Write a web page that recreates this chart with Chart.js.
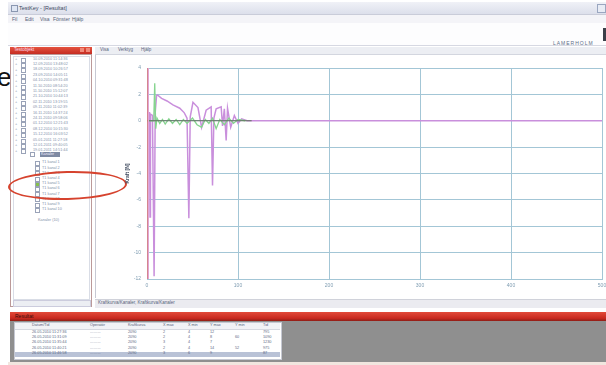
<!DOCTYPE html>
<html>
<head>
<meta charset="utf-8">
<script src="https://cdn.jsdelivr.net/npm/chart.js@4/dist/chart.umd.min.js"></script>
<style>
  html, body { margin: 0; padding: 0; background: #fff; }
  body { width: 606px; height: 365px; overflow: hidden; position: relative; font-family: "Liberation Sans", Arial, sans-serif; }
  .abs { position: absolute; }
  .t { font-size: 5px; color: #56637a; white-space: nowrap; line-height: 1; }
  .big-e { left: -3px; top: 62px; font-size: 26px; color: #111; }
  .titlebar { left: 8px; top: 2px; width: 598px; height: 12px; background: linear-gradient(#f0f1f7, #dcdfeb); border-bottom: 1px solid #c9ccd9; }
  .menubar { left: 8px; top: 15px; width: 598px; height: 8px; background: #f4f4f8; }
  .toolarea { left: 8px; top: 23px; width: 598px; height: 22px; background: #fdfdfe; border-bottom: 1px solid #d6d8e2; }
  .lhead { left: 10px; top: 47px; width: 82px; height: 7px; background: linear-gradient(#e4533f, #c52c22); }
  .lbody { left: 10px; top: 54px; width: 80px; height: 251px; background: #fff; border: 1px solid #b99; }
  .llist { left: 13px; top: 56px; width: 75px; height: 242px; border: 1px solid #d9dde6; background: #fff; }
  .lscroll { left: 13px; top: 300px; width: 76px; height: 5px; background: #eceef3; border: 1px solid #ccd; }
  .mtabs { left: 95px; top: 47px; width: 511px; height: 7px; background: #eceef3; border-bottom: 1px solid #d3d6df; }
  .mpanel { left: 95px; top: 55px; width: 511px; height: 243px; background: #fff; border-left: 1px solid #c7c9d3; }
  .mstatus { left: 95px; top: 299px; width: 511px; height: 8px; background: #ebebf0; border-top: 1px solid #d0d2da; }
  .rbar { left: 10px; top: 312px; width: 596px; height: 9px; background: linear-gradient(#e24a39, #c8291f 70%, #8e1d16); }
  .garea { left: 10px; top: 321px; width: 596px; height: 41px; background: #8f8f8f; }
  .tbl { left: 14px; top: 322px; width: 266px; height: 36px; background: #fff; border: 1px solid #c5c8d2; }
  .bstrip { left: 8px; top: 362px; width: 598px; height: 3px; background: #f1e6df; }
  .cb { position: absolute; width: 3px; height: 3px; border: 1px solid #9aa3b8; background: #fff; }
  .ellipse { left: 8px; top: 171px; width: 115px; height: 25px; border: 2px solid #d6432e; border-radius: 50%; transform: rotate(-1.5deg); }
  canvas { position: absolute; left: 95px; top: 55px; }
</style>
</head>
<body>
<div class="abs big-e">e</div>

<div class="abs titlebar"></div>
<div class="abs" style="left:11px;top:5px;width:5px;height:5px;background:#dfe6f3;border:1px solid #8a97b0;"></div>
<div class="abs t" style="left:19px;top:6px;font-size:5.5px;color:#3d4760;">TestKey - [Resultat]</div>
<div class="abs" style="left:597px;top:4px;width:7px;height:7px;background:#e8ecf5;border:1px solid #9aa6c0;"></div>

<div class="abs menubar"></div>
<div class="abs t" style="left:12px;top:17px;">Fil</div>
<div class="abs t" style="left:25px;top:17px;">Edit</div>
<div class="abs t" style="left:40px;top:17px;">Visa</div>
<div class="abs t" style="left:53px;top:17px;">Fönster</div>
<div class="abs t" style="left:72px;top:17px;">Hjälp</div>

<div class="abs toolarea"></div>
<div class="abs" style="left:603px;top:28px;width:3px;height:13px;background:#3b3f48;"></div>
<div class="abs t" style="left:553px;top:41px;font-size:5px;letter-spacing:1px;color:#5d6f88;">LAMERHOLM</div>

<div class="abs lhead"></div>
<div class="abs t" style="left:14px;top:48px;color:#fde;font-size:4.5px;">Testobjekt</div>
<div class="abs" style="left:80px;top:48px;width:4px;height:4px;background:#f08a7a;"></div>
<div class="abs" style="left:86px;top:48px;width:4px;height:4px;background:#f08a7a;"></div>
<div class="abs lbody"></div>
<div class="abs llist"></div>
<div id="tree"></div>
<div class="abs lscroll"></div>

<div class="abs mtabs"></div>
<div class="abs t" style="left:100px;top:48px;font-size:4.5px;">Visa</div>
<div class="abs t" style="left:118px;top:48px;font-size:4.5px;">Verktyg</div>
<div class="abs t" style="left:141px;top:48px;font-size:4.5px;">Hjälp</div>
<div class="abs mpanel"></div>
<div class="abs mstatus"></div>
<div class="abs t" style="left:98px;top:301px;font-size:4.5px;">Kraftkurva/Kanaler, Kraftkurva/Kanaler</div>

<div class="abs rbar"></div>
<div class="abs t" style="left:15px;top:314px;color:#3a0d0a;font-size:5px;">Resultat</div>
<div class="abs garea"></div>
<div class="abs tbl"></div>
<div id="table"></div>
<div class="abs bstrip"></div>

<div class="abs ellipse"></div>

<canvas id="chart" width="511" height="244"></canvas>

<script>
// Test runs listed in the object tree
const runLabels = [
  '10.09.2010 11:14:36', '12.09.2010 13:48:02', '18.09.2010 10:26:57', '23.09.2010 14:05:11',
  '04.10.2010 09:31:48', '11.10.2010 08:54:20', '11.10.2010 15:12:07', '21.10.2010 10:44:13',
  '02.11.2010 13:19:55', '09.11.2010 11:02:39', '16.11.2010 14:37:24', '24.11.2010 09:58:06',
  '01.12.2010 12:21:43', '08.12.2010 10:15:30', '15.12.2010 16:03:52', '05.01.2011 11:27:18',
  '12.01.2011 09:40:05', '19.01.2011 14:51:44'
];
const channelLabels = [
  'T1 kanal 1', 'T1 kanal 2', 'T1 kanal 3', 'T1 kanal 4', 'T1 kanal 5', 'T1 kanal 6',
  'T1 kanal 7', 'T1 kanal 8', 'T1 kanal 9', 'T1 kanal 10'
];
const checkedChannel = 4;

// Result table
const tableHeaders = ['Datum/Tid', 'Operatör', 'Kraftkurva', 'X max', 'X min', 'Y max', 'Y min', 'Tid'];
const tableRows = [
  ['26.05.2010 11:27:36', '..........', '2090', '2', '4', '12', '', '795'],
  ['26.05.2010 11:31:09', '..........', '2090', '2', '4', '8', '60', '1090'],
  ['26.05.2010 11:35:44', '..........', '2090', '3', '4', '7', '', '1230'],
  ['26.05.2010 11:40:21', '..........', '2090', '2', '4', '14', '52', '975'],
  ['26.05.2010 11:46:58', '..........', '2090', '3', '6', '9', '', '87']
];
const tableColX = [18, 76, 114, 149, 174, 196, 221, 249];

// Chart axes
const xMin = 0, xMax = 500, xStep = 100;
const yMin = -12, yMax = 4, yStep = 2;
const yAxisTitle = 'Kraft [N]';

// Measured channels, [x, y]
const forceCurve = [
  [0, 0.6], [2.8, 0.6], [3.3, -7.3], [3.8, 0.5], [6, 0.4], [7.8, -11.8], [9, 0.6], [10.5, 1.9],
  [11.5, 1.95], [16, 1.7], [22, 1.5], [28.5, 1.2], [36, 0.95], [41, 0.6], [44, 0.2], [46, -7.4],
  [47.5, 0.3], [50.5, 1.4], [56, 1.0], [60, -0.5], [65, 0.8], [70.5, 1.05], [72, -4.9], [73.5, 0.2],
  [76, 0.9], [81.5, 1.05], [83, -0.4], [85, 0.9], [87, -1.5], [88.5, 0.95], [92, -0.5], [96, 0.4],
  [100, -0.2], [104, 0.15], [110, 0], [500, 0]
];
const channel2 = [
  [0, 0], [7.4, 0], [8.5, 2.85], [9.6, -0.6], [11, 0.2], [14, -0.2], [17, 0.1], [20, -0.25],
  [24, 0.15], [28, -0.2], [32, 0.1], [36, -0.3], [40, 0.1], [44, -0.2], [50, 0.2], [55, -0.3],
  [60, -0.5], [64, 0.1], [68, -0.2], [72, 0.2], [76, -0.6], [80, 0.1], [85, -0.3], [90, 0.2],
  [95, -0.2], [100, 0.1], [108, 0]
];
const baseline = [[0, 0], [115, 0]];
const cursorA = [[0, 4], [0, -12]];
const cursorB = [[1.5, 4], [1.5, -12]];

// Build tree rows and the result table
(function () {
  const tree = document.getElementById('tree');
  let html = '';
  runLabels.forEach((lab, i) => {
    const y = 57 + i * 5.4;
    html += `<div class="abs t" style="left:15px;top:${y}px;font-size:4px;color:#8d97aa;">+</div>` +
            `<div class="cb" style="left:21px;top:${y + 0.5}px;"></div>` +
            `<div class="abs t" style="left:33px;top:${y + 0.5}px;font-size:3.8px;color:#8592ab;">${lab}</div>`;
  });
  html += `<div class="abs" style="left:30px;top:152px;width:3px;height:3px;border:1px solid #9aa3b8;"></div>`;
  html += `<div class="abs" style="left:40px;top:152px;width:20px;height:5px;background:#7f8aa3;"></div>` +
          `<div class="abs t" style="left:41px;top:152.5px;font-size:3.8px;color:#eef;">Kanaler</div>`;
  channelLabels.forEach((lab, i) => {
    const y = 161 + i * 5.2;
    const bg = i === checkedChannel ? '#86c04d' : '#fff';
    html += `<div class="cb" style="left:35px;top:${y}px;background:${bg};"></div>` +
            `<div class="abs t" style="left:42px;top:${y + 0.3}px;font-size:3.8px;color:#8592ab;">${lab}</div>`;
  });
  html += `<div class="abs t" style="left:38px;top:219px;font-size:3.8px;color:#8592ab;">Kanaler (10)</div>`;
  tree.innerHTML = html;

  const table = document.getElementById('table');
  let t = `<div class="abs" style="left:15px;top:323px;width:265px;height:6px;background:#f1f2f6;border-bottom:1px solid #d5d8e0;"></div>`;
  tableHeaders.forEach((h, i) => {
    t += `<div class="abs t" style="left:${tableColX[i] + 14}px;top:324px;font-size:3.8px;color:#56637a;">${h}</div>`;
  });
  tableRows.forEach((r, ri) => {
    const y = 330 + ri * 5.4;
    if (ri === tableRows.length - 1) {
      t += `<div class="abs" style="left:15px;top:${y}px;width:265px;height:5px;background:#b9c2d6;"></div>`;
    }
    r.forEach((c, ci) => {
      t += `<div class="abs t" style="left:${tableColX[ci] + 14}px;top:${y + 0.6}px;font-size:3.8px;color:#5d6b86;">${c}</div>`;
    });
  });
  table.innerHTML = t;
})();

const toXY = arr => arr.map(([x, y]) => ({ x, y }));
const line = (data, color, width) => ({
  data: toXY(data), borderColor: color, borderWidth: width, showLine: true,
  pointRadius: 0, tension: 0, fill: false
});

new Chart(document.getElementById('chart'), {
  type: 'scatter',
  data: {
    datasets: [
      line(cursorA, '#e07070', 1.4),
      line(cursorB, '#e3a6d6', 1),
      line(baseline, '#5f6f5f', 1.2),
      line(channel2, '#86d48f', 1.3),
      line(forceCurve, '#c98fdc', 1.5)
    ]
  },
  options: {
    responsive: false,
    animation: false,
    devicePixelRatio: 1,
    layout: { padding: { left: 30, right: 4, top: 13, bottom: 4 } },
    plugins: { legend: { display: false }, tooltip: { enabled: false } },
    scales: {
      x: {
        type: 'linear', min: xMin, max: xMax,
        ticks: { stepSize: xStep, color: '#7f9db2', font: { size: 5, family: 'Liberation Sans' }, padding: 4, maxRotation: 0 },
        grid: { color: '#a3c6d6', lineWidth: 1, drawTicks: false },
        border: { color: '#a3c6d6' },
        afterFit: s => { s.height = 16; s.paddingLeft = 0; s.paddingRight = 0; }
      },
      y: {
        min: yMin, max: yMax,
        ticks: { stepSize: yStep, color: '#7f9db2', font: { size: 5, family: 'Liberation Sans' }, padding: 6 },
        grid: { color: '#a3c6d6', lineWidth: 1, drawTicks: false },
        border: { color: '#a3c6d6' },
        title: { display: true, text: yAxisTitle, color: '#3f4a5e', font: { size: 5, weight: 'bold', family: 'Liberation Sans' }, padding: 0 },
        afterFit: s => { s.width = 22; }
      }
    }
  }
});
</script>
</body>
</html>
